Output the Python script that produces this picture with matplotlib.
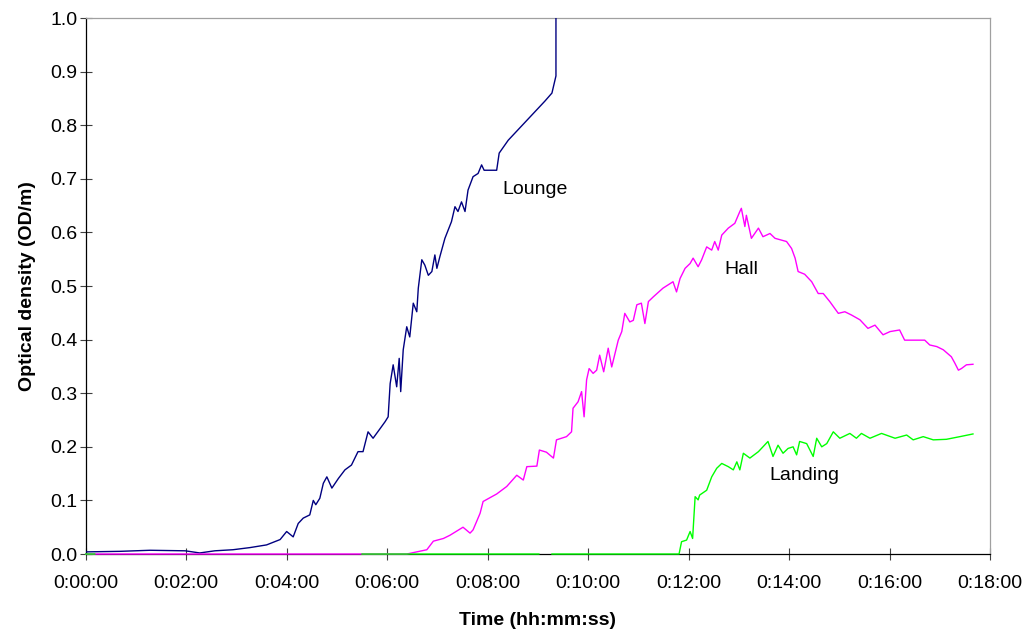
import numpy as np
import matplotlib
matplotlib.use("Agg")
import matplotlib.pyplot as plt
from matplotlib.ticker import FuncFormatter, MultipleLocator

plt.rcParams['font.family'] = ['Liberation Sans', 'DejaVu Sans']

# Times in minutes, optical density in OD/m
lounge_t = [0.00, 0.68, 1.28, 1.98, 2.27, 2.57, 2.93, 3.27, 3.60, 3.87, 4.00, 4.13,
            4.23, 4.33, 4.46, 4.53, 4.58, 4.66, 4.73, 4.80, 4.90, 5.03, 5.16, 5.29,
            5.42, 5.52, 5.62, 5.72, 5.86, 5.96, 6.02, 6.06, 6.12, 6.19, 6.24, 6.27,
            6.32, 6.39, 6.45, 6.52, 6.59, 6.62, 6.69, 6.75, 6.82, 6.89, 6.95, 6.99,
            7.05, 7.15, 7.28, 7.35, 7.41, 7.48, 7.55, 7.61, 7.71, 7.81, 7.88, 7.93,
            8.18, 8.23, 8.41, 9.14, 9.28, 9.36, 9.36]
lounge_od = [0.004, 0.005, 0.007, 0.006, 0.002, 0.006, 0.008, 0.012, 0.017, 0.027, 0.042, 0.032,
             0.057, 0.067, 0.073, 0.100, 0.092, 0.104, 0.132, 0.144, 0.123, 0.141, 0.157, 0.166,
             0.191, 0.191, 0.228, 0.216, 0.234, 0.247, 0.256, 0.318, 0.353, 0.312, 0.365, 0.303,
             0.381, 0.424, 0.405, 0.468, 0.452, 0.496, 0.549, 0.539, 0.520, 0.527, 0.558, 0.533,
             0.555, 0.589, 0.620, 0.648, 0.639, 0.657, 0.639, 0.679, 0.704, 0.710, 0.726, 0.716,
             0.716, 0.748, 0.772, 0.845, 0.860, 0.892, 1.05]

hall_t = [0.00, 6.39, 6.79, 6.92, 7.12, 7.25, 7.51, 7.65, 7.71, 7.85, 7.91, 8.18,
          8.38, 8.58, 8.71, 8.78, 8.98, 9.03, 9.17, 9.31, 9.37, 9.57, 9.67, 9.70,
          9.80, 9.87, 9.92, 9.97, 10.02, 10.10, 10.17, 10.23, 10.31, 10.40, 10.47, 10.60,
          10.67, 10.73, 10.83, 10.90, 10.97, 11.06, 11.13, 11.20, 11.30, 11.49, 11.69, 11.76,
          11.83, 11.93, 12.03, 12.09, 12.19, 12.26, 12.36, 12.46, 12.52, 12.59, 12.66, 12.79,
          12.92, 13.02, 13.05, 13.12, 13.15, 13.25, 13.39, 13.48, 13.62, 13.72, 13.95, 14.05,
          14.12, 14.18, 14.31, 14.45, 14.58, 14.68, 14.81, 14.98, 15.11, 15.24, 15.41, 15.57,
          15.71, 15.87, 16.01, 16.20, 16.30, 16.47, 16.70, 16.80, 16.94, 17.07, 17.23, 17.30,
          17.37, 17.43, 17.53, 17.66]
hall_od = [0.000, 0.000, 0.008, 0.024, 0.029, 0.035, 0.050, 0.039, 0.045, 0.076, 0.098, 0.112,
           0.126, 0.147, 0.138, 0.163, 0.164, 0.194, 0.190, 0.179, 0.213, 0.219, 0.228, 0.272,
           0.284, 0.303, 0.256, 0.325, 0.346, 0.337, 0.343, 0.371, 0.340, 0.384, 0.349, 0.399,
           0.415, 0.449, 0.433, 0.436, 0.465, 0.468, 0.430, 0.471, 0.480, 0.496, 0.508, 0.489,
           0.514, 0.533, 0.542, 0.552, 0.536, 0.549, 0.573, 0.567, 0.583, 0.567, 0.595, 0.608,
           0.617, 0.639, 0.645, 0.611, 0.632, 0.589, 0.608, 0.592, 0.598, 0.589, 0.583, 0.570,
           0.552, 0.527, 0.522, 0.508, 0.486, 0.486, 0.471, 0.449, 0.452, 0.446, 0.437, 0.421,
           0.427, 0.409, 0.415, 0.418, 0.399, 0.399, 0.399, 0.390, 0.387, 0.381, 0.368, 0.356,
           0.343, 0.346, 0.353, 0.354]

# Landing logger has gaps (NaN) in the early record
landing_t = [0.00, 0.18, 0.19, 5.50, 9.02, 9.03, 9.28, 11.81, 11.86, 11.96, 12.03, 12.08,
             12.13, 12.19, 12.22, 12.36, 12.46, 12.56, 12.66, 12.79, 12.89, 12.96, 13.02, 13.09,
             13.22, 13.39, 13.48, 13.58, 13.68, 13.78, 13.88, 13.98, 14.08, 14.15, 14.21, 14.35,
             14.48, 14.55, 14.65, 14.75, 14.88, 15.01, 15.21, 15.34, 15.44, 15.61, 15.84, 16.11,
             16.34, 16.47, 16.67, 16.87, 17.13, 17.40, 17.66]
landing_od = [0.000, 0.000, np.nan, 0.000, 0.000, np.nan, 0.000, 0.000, 0.023, 0.026, 0.042, 0.029,
              0.107, 0.101, 0.110, 0.119, 0.144, 0.160, 0.169, 0.163, 0.157, 0.172, 0.157, 0.188,
              0.179, 0.191, 0.200, 0.210, 0.182, 0.203, 0.188, 0.197, 0.200, 0.185, 0.210, 0.206,
              0.182, 0.216, 0.200, 0.206, 0.228, 0.216, 0.225, 0.216, 0.225, 0.216, 0.225, 0.216,
              0.222, 0.213, 0.219, 0.213, 0.214, 0.219, 0.224]

labels = ["Lounge", "Hall", "Landing"]
label_pos = [(8.3, 0.665), (12.72, 0.515), (13.6, 0.13)]


def hms(x, pos):
    s = int(round(x * 60))
    return "%d:%02d:%02d" % (s // 3600, (s % 3600) // 60, s % 60)


fig = plt.figure(figsize=(10.25, 6.3), dpi=100)
ax = fig.add_axes([0.0836, 0.1206, 0.8823, 0.8508])

ax.plot(lounge_t, lounge_od, color="#000080", lw=1.0, zorder=3, clip_on=False)
ax.plot(hall_t, hall_od, color="#ff00ff", lw=1.0, zorder=3, clip_on=False)
ax.plot(landing_t, landing_od, color="#00ff00", lw=1.0, zorder=3, clip_on=False)
ax.lines[0].set_clip_on(True)

for name, (x, y) in zip(labels, label_pos):
    ax.text(x, y, name, fontsize=14, va="bottom", ha="left")

ax.set_xlim(0, 18)
ax.set_ylim(0, 1.0)
ax.xaxis.set_major_locator(MultipleLocator(2))
ax.yaxis.set_major_locator(MultipleLocator(0.1))
ax.xaxis.set_major_formatter(FuncFormatter(hms))
ax.yaxis.set_major_formatter(FuncFormatter(lambda v, p: "%.1f" % v))

ax.tick_params(direction="inout", length=8.6, width=0.8, color="#404040", labelsize=14)
ax.tick_params(axis="y", pad=1.5)
ax.tick_params(axis="x", pad=11)

ax.spines["left"].set_color("black")
ax.spines["bottom"].set_color("black")
ax.spines["top"].set_color("#a0a0a0")
ax.spines["right"].set_color("#a0a0a0")
for s in ax.spines.values():
    s.set_linewidth(0.9)

ax.set_xlabel("Time (hh:mm:ss)", fontsize=14, fontweight="bold", labelpad=14)
ax.set_ylabel("Optical density (OD/m)", fontsize=14, fontweight="bold", labelpad=10)

fig.savefig("out.png", dpi=100)
